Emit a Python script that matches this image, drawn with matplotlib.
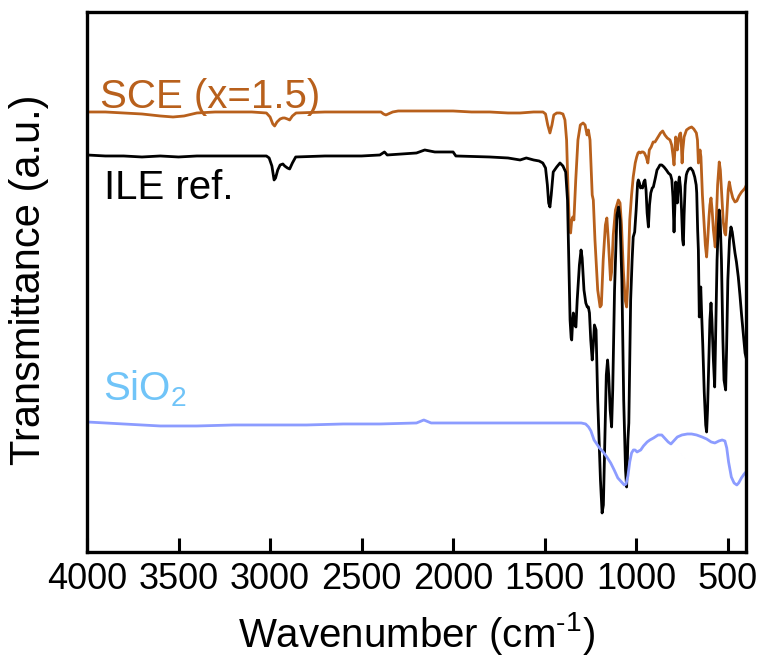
import numpy as np
import matplotlib
matplotlib.use("Agg")
import matplotlib.pyplot as plt

plt.rcParams["font.family"] = ["Liberation Sans", "DejaVu Sans"]
plt.rcParams["mathtext.fontset"] = "custom"
plt.rcParams["mathtext.rm"] = "Liberation Sans"
plt.rcParams["mathtext.it"] = "Liberation Sans"

# spectra: wavenumber (cm-1) and transmittance (a.u., offset)
ile_wn = [4000, 3900, 3800, 3700, 3600, 3500, 3400, 3300, 3200, 3100, 3020, 3005, 2990, 2978,
          2970, 2958, 2945, 2930, 2920, 2905, 2893, 2878, 2860, 2700, 2500, 2400, 2375, 2360,
          2200, 2155, 2100, 2000, 1985, 1800, 1700, 1634, 1600, 1560, 1530, 1510, 1495, 1485,
          1478, 1471, 1464, 1453, 1434, 1416, 1400, 1385, 1375, 1366, 1361, 1355, 1352, 1346,
          1343, 1336, 1329, 1322, 1310, 1301, 1295, 1285, 1275, 1267, 1261, 1255, 1248, 1240,
          1234, 1228, 1219, 1210, 1195, 1186, 1179, 1170, 1163, 1156, 1150, 1142, 1134, 1128,
          1118, 1105, 1096, 1088, 1078, 1068, 1058, 1052, 1045, 1040, 1030, 1022, 1016, 1008,
          1000, 992, 988, 982, 976, 970, 965, 958, 952, 946, 940, 933, 927, 920, 912, 906, 895,
          886, 879, 870, 860, 848, 835, 824, 812, 805, 799, 793, 788, 784, 780, 775, 770, 764,
          758, 752, 746, 742, 738, 732, 726, 721, 712, 702, 690, 680, 672, 669, 664, 660, 655,
          651, 647, 643, 636, 628, 620, 615, 610, 604, 597, 591, 586, 578, 571, 566, 558, 551,
          546, 541, 534, 526, 520, 511, 506, 499, 490, 482, 475, 466, 460, 452, 442, 433, 424,
          414, 405, 400]
ile_t = [397, 396, 396, 395, 396, 395, 396, 396, 396, 396, 396, 394, 386, 372,
         374, 382, 387, 388, 386, 384, 383, 389, 395, 396, 396, 397, 400, 397,
         399, 402, 400, 400, 396, 395, 394, 392, 394, 392, 391, 389, 384, 367,
         349, 345, 357, 380, 385, 389, 386, 380, 352, 272, 232, 214, 212, 234,
         239, 227, 225, 252, 287, 302, 294, 262, 249, 245, 245, 239, 212, 192,
         207, 227, 222, 152, 72, 39, 47, 122, 177, 192, 177, 142, 125, 162,
         262, 337, 345, 332, 272, 152, 82, 65, 112, 129, 252, 292, 315, 320,
         342, 369, 372, 369, 364, 365, 364, 370, 372, 362, 339, 325, 347, 359, 364, 365, 374,
         382, 384, 387, 387, 385, 382, 379, 377, 372, 355, 320, 347, 370, 362, 349, 367, 375,
         365, 342, 312, 307, 337, 367, 377, 380, 383, 384, 381, 375, 367, 359, 322, 302, 235,
         257, 265, 242, 207, 160, 127, 120, 142, 182, 232, 249, 232, 192, 165, 212, 292, 327,
         342, 332, 292, 212, 172, 162, 202, 272, 312, 325, 320, 307, 299, 290, 275, 257, 237,
         217, 199, 195]

sce_wn = [4000, 3900, 3800, 3700, 3600, 3530, 3470, 3400, 3300, 3200, 3100, 3020, 3000, 2985,
          2975, 2962, 2945, 2930, 2920, 2905, 2893, 2878, 2858, 2700, 2500, 2394, 2380, 2367,
          2330, 2300, 2200, 2100, 2000, 1900, 1800, 1700, 1634, 1560, 1509, 1495, 1483, 1471,
          1460, 1450, 1434, 1416, 1400, 1389, 1380, 1372, 1365, 1358, 1352, 1346, 1340, 1330,
          1318, 1305, 1290, 1279, 1268, 1261, 1252, 1240, 1234, 1225, 1210, 1197, 1190, 1180,
          1168, 1160, 1152, 1140, 1134, 1125, 1113, 1097, 1088, 1080, 1070, 1060, 1052, 1045,
          1035, 1025, 1016, 1005, 997, 990, 984, 977, 970, 962, 955, 945, 936, 928, 918, 907,
          897, 880, 867, 855, 843, 830, 815, 806, 799, 793, 788, 784, 780, 775, 769, 762, 757,
          753, 749, 745, 738, 725, 710, 697, 685, 671, 665, 660, 655, 651, 646, 638, 630, 622,
          615, 609, 602, 597, 591, 585, 578, 568, 562, 555, 546, 540, 533, 524, 516, 511, 505,
          497, 491, 483, 472, 460, 450, 438, 424, 414, 405, 400]
sce_t = [440, 440, 439, 438, 436, 435, 436, 439, 440, 440, 440, 439, 435, 428,
         426, 430, 433, 434, 434, 433, 432, 436, 439, 440, 440, 440, 438, 437,
         440, 441, 441, 441, 441, 440, 440, 439, 439, 440, 440, 438, 427, 419,
         427, 437, 439, 439, 438, 432, 412, 362, 327, 319, 332, 335, 332, 372,
         412, 427, 429, 427, 417, 422, 412, 357, 352, 312, 262, 245, 247, 292,
         327, 334, 312, 272, 280, 317, 342, 352, 349, 327, 282, 252, 245, 272,
         332, 357, 375, 389, 395, 399, 400, 399, 400, 400, 399, 395, 389, 402, 405, 410,
         410, 415, 419, 421, 417, 414, 412, 407, 397, 387, 402, 415, 412, 402, 412, 418, 419,
         407, 389, 402, 415, 422, 424, 425, 423, 419, 412, 389, 397, 402, 395, 357, 332, 307,
         295, 312, 335, 347, 354, 342, 322, 305, 332, 367, 390, 382, 359, 330, 319, 317, 337,
         362, 370, 362, 354, 350, 351, 356, 360, 362, 364, 366]

sio2_wn = [4000, 3800, 3600, 3400, 3200, 3000, 2800, 2600, 2400, 2200, 2160, 2120, 2000, 1800,
           1600, 1400, 1300, 1276, 1260, 1247, 1230, 1215, 1200, 1180, 1160, 1139, 1120, 1100,
           1080, 1065, 1055, 1045, 1035, 1025, 1015, 1006, 995, 975, 960, 940, 925, 905, 880,
           860, 845, 825, 810, 795, 775, 750, 720, 697, 670, 640, 615, 590, 570, 548, 530, 515,
           505, 495, 480, 465, 450, 440, 425, 410, 400]
sio2_t = [130, 128, 126, 126, 127, 127, 127, 128, 128, 129, 132, 129, 129, 129,
          129, 129, 129, 128, 125, 121, 112, 108, 104, 100, 95, 89, 82, 74,
          70, 67, 68, 76, 90, 99, 102, 102, 100, 102, 106, 110, 112, 114, 117,
          117, 114, 110, 108, 111, 115, 117, 118, 118, 117, 115, 113, 110, 109, 111, 112, 111,
          104, 90, 75, 69, 67, 69, 74, 78, 80]

labels = ["SCE (x=1.5)", "ILE ref.", "SiO$_2$"]
line_colors = ["#b8601c", "#000000", "#8c9cff"]
text_colors = ["#b8601c", "#000000", "#70c4f8"]

fig = plt.figure(figsize=(7.64, 6.62), dpi=100)
ax = fig.add_axes([0.1139, 0.1662, 0.8625, 0.8157])

ax.plot(sce_wn, sce_t, color=line_colors[0], lw=2.0)
ax.plot(ile_wn, ile_t, color=line_colors[1], lw=2.0)
ax.plot(sio2_wn, sio2_t, color=line_colors[2], lw=2.0)

# curve labels
ax.text(0.019, 0.822, labels[0], color=text_colors[0], fontsize=29,
        transform=ax.transAxes, va="baseline")
ax.text(0.026, 0.654, labels[1], color=text_colors[1], fontsize=29,
        transform=ax.transAxes, va="baseline")
ax.text(0.024, 0.281, labels[2], color=text_colors[2], fontsize=29,
        transform=ax.transAxes, va="baseline")

ax.set_xlim(4000, 400)
ax.set_ylim(0, 540)
ax.set_xticks(np.arange(4000, 499, -500))
ax.set_yticks([])
ax.tick_params(axis="x", direction="in", length=10, width=2.2, labelsize=26, pad=7)
for sp in ax.spines.values():
    sp.set_linewidth(2.4)

ax.set_xlabel(r"Wavenumber (cm$^{\text{-1}}$)", fontsize=29)
ax.set_ylabel("Transmittance (a.u.)", fontsize=30)
ax.xaxis.set_label_coords(0.5, -0.108)
ax.yaxis.set_label_coords(-0.058, 0.504)

fig.savefig("out.png", dpi=100)
